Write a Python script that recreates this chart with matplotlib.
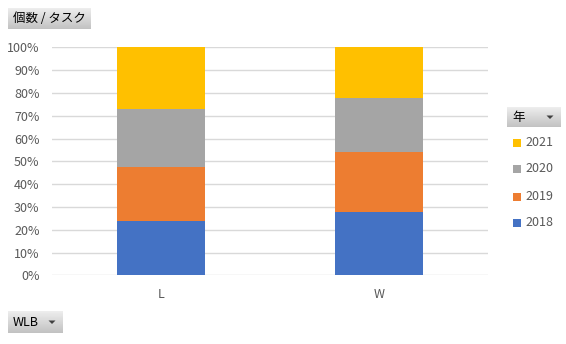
import numpy as np
import matplotlib
matplotlib.use("Agg")
import matplotlib.pyplot as plt

plt.rcParams['font.family'] = ['Noto Sans CJK JP', 'DejaVu Sans']

# data (percent of tasks per WLB group, by year)
categories = ['L', 'W']
years = ['2018', '2019', '2020', '2021']
pct_2018 = [23.8, 27.8]
pct_2019 = [23.7, 26.3]
pct_2020 = [25.4, 23.7]
pct_2021 = [27.1, 22.2]
colors = ['#4472C4', '#ED7D31', '#A5A5A5', '#FFC000']
yticks = [0, 10, 20, 30, 40, 50, 60, 70, 80, 90, 100]

W, H = 566, 344
fig = plt.figure(figsize=(W / 100, H / 100), dpi=100)

#main plot area
ax = fig.add_axes([52 / W, (H - 275.3) / H, 436 / W, 228 / H])
x = np.arange(len(categories))
bottom = np.zeros(len(categories))
for vals, c in zip([pct_2018, pct_2019, pct_2020, pct_2021], colors):
    ax.bar(x, vals, width=0.4, bottom=bottom, color=c, zorder=3)
    bottom = bottom + np.array(vals)

ax.set_xlim(-0.5, 1.5)
ax.set_ylim(0, 100)
ax.set_yticks(yticks)
ax.set_yticklabels(['%d%%' % t for t in yticks])
ax.set_xticks(x)
ax.set_xticklabels(categories)
ax.tick_params(length=0, labelsize=9, labelcolor='#595959')
ax.tick_params(axis='y', pad=9)
ax.tick_params(axis='x', pad=9)
ax.grid(axis='y', color='#D9D9D9', linewidth=1, zorder=0)
for s in ax.spines.values():
    s.set_visible(False)

#overlay for the pivot buttons and legend, in pixel coords
ov = fig.add_axes([0, 0, 1, 1], zorder=5)
ov.set_xlim(0, W)
ov.set_ylim(H, 0)
ov.axis('off')
ov.patch.set_alpha(0)

grad = np.linspace(0.93, 0.76, 50).reshape(-1, 1)

def button(x0, y0, x1, y1, label, arrow=False, arrow_x=None):
    ov.imshow(grad, cmap='gray', vmin=0, vmax=1, extent=(x0, x1, y1, y0),
              aspect='auto', interpolation='bilinear')
    ov.text(x0 + 5, (y0 + y1) / 2 + 0.5, label, fontsize=9, color='#000000',
            va='center', ha='left')
    if arrow:
        cy = (y0 + y1) / 2
        ov.fill([arrow_x - 3.5, arrow_x + 3.5, arrow_x], [cy - 1.5, cy - 1.5, cy + 2],
                color='#404040', lw=0)

button(8, 8, 91, 29, '個数 / タスク')
button(507, 107, 561, 127, '年', True, 550)
button(8, 311, 63, 333, 'WLB', True, 52)

#legend
leg_y = [223, 197, 169, 143]
for yr, c, yy in zip(years, colors, leg_y):
    ov.add_patch(plt.Rectangle((513, yy - 4), 8, 8, color=c, lw=0))
    ov.text(525, yy, yr, fontsize=9, color='#595959', va='center', ha='left')

ov.set_xlim(0, W)
ov.set_ylim(H, 0)

fig.savefig('out.png', dpi=100)
